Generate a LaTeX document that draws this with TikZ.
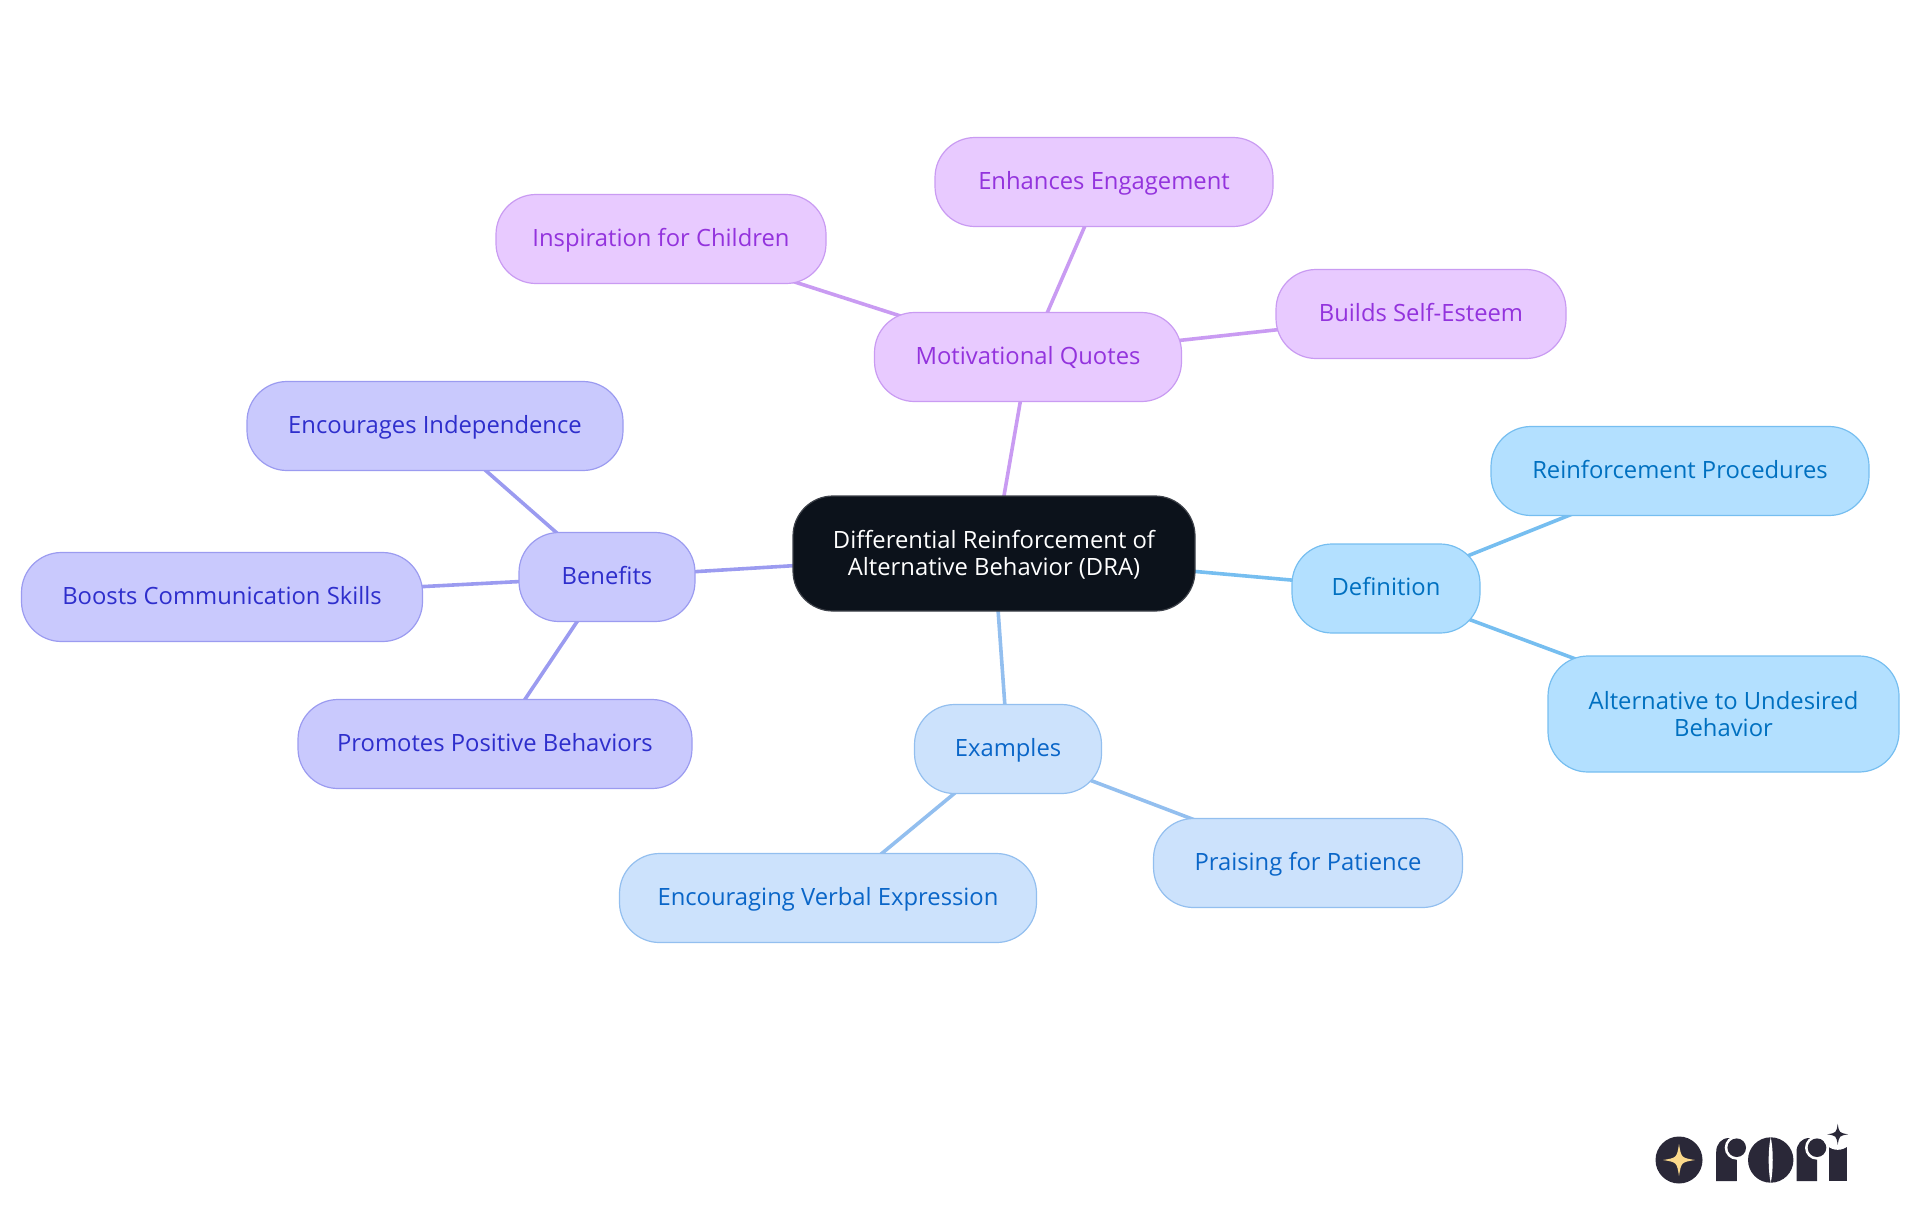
\documentclass[tikz,border=0pt]{standalone}
\usepackage{fontspec}
\setmainfont{Open Sans}
\usetikzlibrary{backgrounds}

\definecolor{rootfill}{HTML}{0C121B}
\definecolor{logodark}{HTML}{2A2838}
\definecolor{logostar}{HTML}{FBD98B}
\definecolor{deffill}{HTML}{B3E0FF}
\definecolor{defline}{HTML}{76BEF0}
\definecolor{deftext}{HTML}{0070C0}
\definecolor{exfill}{HTML}{CCE2FC}
\definecolor{exline}{HTML}{93BFEF}
\definecolor{extext}{HTML}{0A66C8}
\definecolor{benfill}{HTML}{C9C9FD}
\definecolor{benline}{HTML}{9B9BF0}
\definecolor{bentext}{HTML}{2E2ECC}
\definecolor{motfill}{HTML}{E8CAFF}
\definecolor{motline}{HTML}{C99BF2}
\definecolor{mottext}{HTML}{9333DD}

\tikzset{
  mapbox/.style={rectangle, rounded corners=20pt, inner sep=0pt, line width=0.6pt,
    minimum height=44.5pt, align=center, font=\fontsize{11.9}{13.5}\selectfont,
    execute at begin node={\rule[-2.9pt]{0pt}{12.9pt}}},
  rootbox/.style={mapbox, fill=rootfill, draw=rootfill!80!white, text=white, minimum height=57.5pt},
  defbox/.style={mapbox, fill=deffill, draw=defline, text=deftext},
  exbox/.style={mapbox, fill=exfill, draw=exline, text=extext},
  benbox/.style={mapbox, fill=benfill, draw=benline, text=bentext},
  motbox/.style={mapbox, fill=motfill, draw=motline, text=mottext},
  link/.style={line width=1.8pt}
}

% first line of a two line label
\newcommand{\firstline}{\rule{0pt}{11.5pt}}

% four pointed star of the logo
\newcommand{\logostar}[4]{%
  \fill[#4] (#1,#2-#3) .. controls (#1+0.14*#3,#2-0.14*#3) .. (#1+#3,#2)
    .. controls (#1+0.14*#3,#2+0.14*#3) .. (#1,#2+#3)
    .. controls (#1-0.14*#3,#2+0.14*#3) .. (#1-#3,#2)
    .. controls (#1-0.14*#3,#2-0.14*#3) .. cycle;}

% letter r of the logo
\newcommand{\logor}[1]{%
  \fill[logodark] (#1,1181) -- (#1,1152) .. controls (#1,1144) and (#1+5,1138) .. (#1+13,1138)
    -- (#1+20.5,1138) -- (#1+20.5,1181) -- cycle;
  \fill[white] (#1+20.5,1147.7) circle (12);
  \fill[logodark] (#1+20.5,1147.7) circle (9.3);
  \fill[logodark] (#1+12,1181) rectangle (#1+20.5,1160);}

\begin{document}
\begin{tikzpicture}[x=0.5pt,y=-0.5pt]
  \useasboundingbox (0,0) rectangle (1920,1215);

  % centre
  \node[rootbox, minimum width=201pt] (root) at (994,553.5) {\firstline Differential Reinforcement of\\Alternative Behavior (DRA)};

  % definition
  \node[defbox, minimum width=94pt] (definition) at (1386,588.5) {Definition};
  \node[defbox, minimum width=189pt] (procedures) at (1680,471) {Reinforcement Procedures};
  \node[defbox, minimum width=175.5pt, minimum height=58pt] (alternative) at (1723.5,714) {\firstline Alternative to Undesired\\Behavior};

  % examples
  \node[exbox, minimum width=93.5pt] (examples) at (1008,749) {Examples};
  \node[exbox, minimum width=154.5pt] (praising) at (1308,863) {Praising for Patience};
  \node[exbox, minimum width=208.5pt] (verbal) at (828,898) {Encouraging Verbal Expression};

  % benefits
  \node[benbox, minimum width=88pt] (benefits) at (607,577) {Benefits};
  \node[benbox, minimum width=188pt] (independence) at (435,426) {Encourages Independence};
  \node[benbox, minimum width=200.5pt] (communication) at (222,597) {Boosts Communication Skills};
  \node[benbox, minimum width=197pt] (positive) at (495,744) {Promotes Positive Behaviors};

  % motivational quotes
  \node[motbox, minimum width=153.5pt] (quotes) at (1028,357) {Motivational Quotes};
  \node[motbox, minimum width=165pt] (inspiration) at (661,239) {Inspiration for Children};
  \node[motbox, minimum width=169pt] (engagement) at (1104,182) {Enhances Engagement};
  \node[motbox, minimum width=145pt] (esteem) at (1421,314) {Builds Self-Esteem};

  % connectors
  \begin{scope}[on background layer]
    \draw[link, defline] (root.center) -- (definition.center);
    \draw[link, defline] (definition.center) -- (procedures.center);
    \draw[link, defline] (definition.center) -- (alternative.center);
    \draw[link, exline] (root.center) -- (examples.center);
    \draw[link, exline] (examples.center) -- (praising.center);
    \draw[link, exline] (examples.center) -- (verbal.center);
    \draw[link, benline] (root.center) -- (benefits.center);
    \draw[link, benline] (benefits.center) -- (independence.center);
    \draw[link, benline] (benefits.center) -- (communication.center);
    \draw[link, benline] (benefits.center) -- (positive.center);
    \draw[link, motline] (root.center) -- (quotes.center);
    \draw[link, motline] (quotes.center) -- (inspiration.center);
    \draw[link, motline] (quotes.center) -- (engagement.center);
    \draw[link, motline] (quotes.center) -- (esteem.center);
  \end{scope}

  % logo
  \fill[logodark] (1679,1160) circle (23.5);
  \logostar{1679}{1160}{16}{logostar}
  \logor{1716.2}
  \fill[logodark] (1770.7,1160) circle (22.7);
  \fill[white] (1770.7,1137) .. controls (1768,1150) and (1768,1170) .. (1770.7,1183)
    .. controls (1773.4,1170) and (1773.4,1150) .. cycle;
  \logor{1796.5}
  \fill[logodark] (1828.7,1146) rectangle (1846.7,1181);
  \fill[white] (1837.7,1134.3) circle (15.5);
  \logostar{1837.7}{1134.3}{10.5}{logodark}
\end{tikzpicture}
\end{document}
